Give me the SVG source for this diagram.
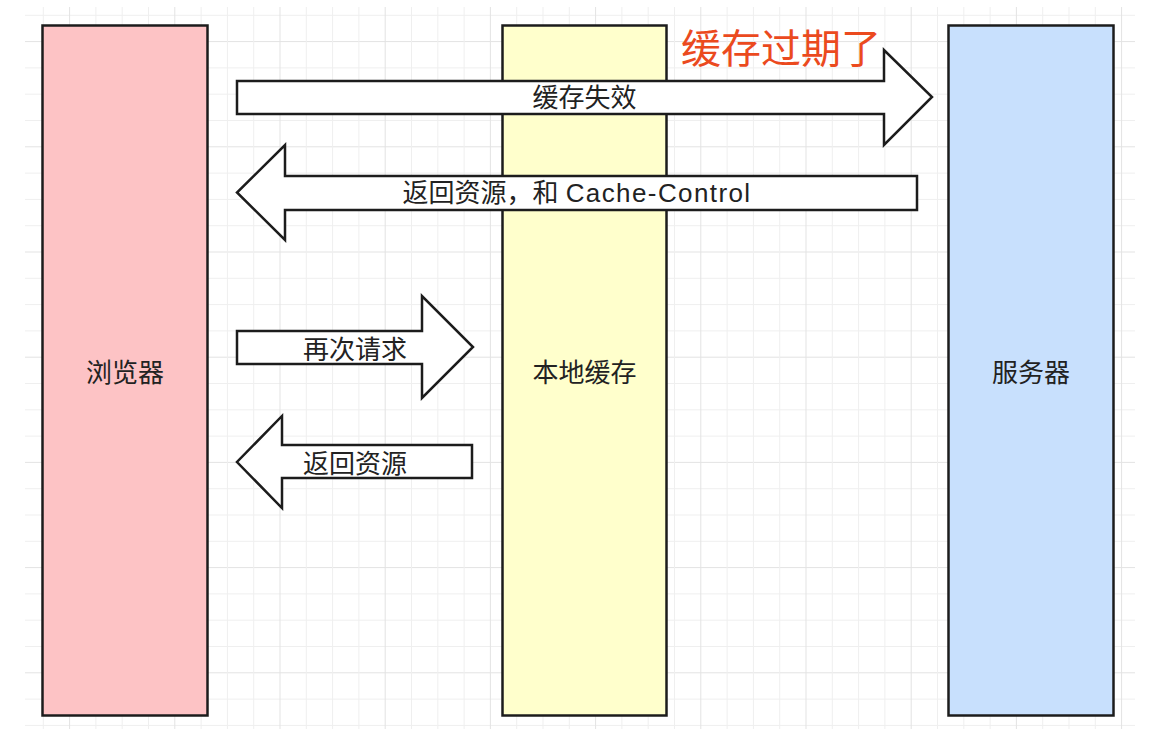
<svg xmlns="http://www.w3.org/2000/svg" width="1152" height="738" viewBox="0 0 1152 738">
  <defs>
    <style>
      .grid { stroke: #efefef; stroke-width: 1; fill: none; }
      .grid-major { stroke: #e3e3e3; stroke-width: 1; fill: none; }
      .box { stroke: #1c1c1c; stroke-width: 2.5; }
      .arrow { fill: #ffffff; stroke: #1c1c1c; stroke-width: 2.5; stroke-linejoin: miter; }
      .label { font-family: "Liberation Sans", "Noto Sans CJK SC", sans-serif; font-size: 26px; fill: #222222; text-anchor: middle; }
      .note { font-family: "Liberation Sans", "Noto Sans CJK SC", sans-serif; font-size: 40px; fill: #eb4a1e; text-anchor: middle; }
    </style>
  </defs>
  <rect x="0" y="0" width="1152" height="738" fill="#ffffff"/>
  <g id="grid">
    <path class="grid" d="M25 15.3H1135 M25 67.9H1135 M25 94.2H1135 M25 120.5H1135 M25 173.1H1135 M25 199.4H1135 M25 225.7H1135 M25 278.3H1135 M25 304.6H1135 M25 330.9H1135 M25 383.5H1135 M25 409.8H1135 M25 436.1H1135 M25 488.7H1135 M25 515H1135 M25 541.3H1135 M25 593.9H1135 M25 620.2H1135 M25 646.5H1135 M25 699.1H1135 M25 725.4H1135"/>
    <path class="grid-major" d="M25 41.6H1135 M25 146.8H1135 M25 252H1135 M25 357.2H1135 M25 462.4H1135 M25 567.6H1135 M25 672.8H1135"/>
    <path class="grid" d="M43.3 7V729 M95.9 7V729 M122.2 7V729 M148.5 7V729 M201.1 7V729 M227.4 7V729 M253.7 7V729 M306.3 7V729 M332.6 7V729 M358.9 7V729 M411.5 7V729 M437.8 7V729 M464.1 7V729 M516.7 7V729 M543 7V729 M569.3 7V729 M621.9 7V729 M648.2 7V729 M674.5 7V729 M727.1 7V729 M753.4 7V729 M779.7 7V729 M832.3 7V729 M858.6 7V729 M884.9 7V729 M937.5 7V729 M963.8 7V729 M990.1 7V729 M1042.7 7V729 M1069 7V729 M1095.3 7V729"/>
    <path class="grid-major" d="M69.6 7V729 M174.8 7V729 M280 7V729 M385.2 7V729 M490.4 7V729 M595.6 7V729 M700.8 7V729 M806 7V729 M911.2 7V729 M1016.4 7V729 M1121.6 7V729"/>
  </g>
  <g id="browser">
    <rect class="box" x="42.5" y="25.5" width="165" height="690" fill="#fdc3c5"/>
    <text class="label" x="125" y="382">浏览器</text>
  </g>
  <g id="local-cache">
    <rect class="box" x="502.5" y="25.5" width="164" height="690" fill="#ffffcc"/>
    <text class="label" x="584.5" y="382">本地缓存</text>
  </g>
  <g id="server">
    <rect class="box" x="948.5" y="25.5" width="165" height="690" fill="#c8e0fd"/>
    <text class="label" x="1031" y="382">服务器</text>
  </g>
  <g id="note">
    <text class="note" x="781" y="63">缓存过期了</text>
  </g>
  <g id="connectors">
    <g id="arrow-cache-invalid">
      <polygon class="arrow" points="237,81 884,81 884,50 932,97 884,145 884,114 237,114"/>
      <text class="label" x="584.5" y="107">缓存失效</text>
    </g>
    <g id="arrow-return-cache-control">
      <polygon class="arrow" points="917,176 285,176 285,145 237,192.5 285,240 285,210 917,210"/>
      <text class="label" x="577" y="202">返回资源，和 <tspan letter-spacing="1.4">Cache-Control</tspan></text>
    </g>
    <g id="arrow-request-again">
      <polygon class="arrow" points="237,331 422,331 422,296 473,347 422,398 422,364 237,364"/>
      <text class="label" x="355" y="359">再次请求</text>
    </g>
    <g id="arrow-return-resource">
      <polygon class="arrow" points="472,445 282,445 282,416 237,462 282,508 282,478 472,478"/>
      <text class="label" x="355" y="473">返回资源</text>
    </g>
  </g>
</svg>
